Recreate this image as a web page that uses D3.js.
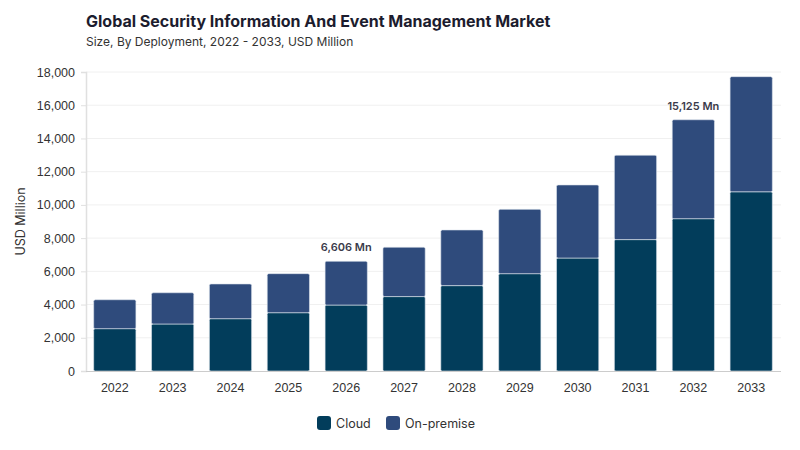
<!DOCTYPE html>
<html><head><meta charset="utf-8">
<script src="https://cdn.jsdelivr.net/npm/d3@7"></script>
<style>body{margin:0;background:#fff;}svg{font-family:Inter,"Noto Sans",sans-serif;}</style>
</head><body><svg id="c" width="800" height="450"></svg>
<script>
const years = ["2022","2023","2024","2025","2026","2027","2028","2029","2030","2031","2032","2033"];
const cloud = [2550,2830,3150,3510,3970,4480,5140,5860,6800,7910,9170,10790];
const onPremise = [1740,1880,2090,2350,2636,2970,3350,3870,4400,5080,5955,6930];
const yTicks = [0,2000,4000,6000,8000,10000,12000,14000,16000,18000];
const annotations = [{year:"2026", label:"6,606 Mn"},{year:"2032", label:"15,125 Mn"}];
const seriesNames = ["Cloud","On-premise"];
const colors = ["#023d5b","#2f4b7c"];

const svg = d3.select("#c");
const m = {l:86,r:19,t:72,b:79};
const W = 800, H = 450;
const x = d3.scaleBand().domain(years).range([85, 781]).paddingInner(0.27).paddingOuter(0.15);
const y = d3.scaleLinear().domain([0,18000]).range([H-m.b, m.t]);

svg.append("text").attr("x",86).attr("y",27).attr("font-size",16).attr("font-weight",700).attr("fill","#1c1c2e").text("Global Security Information And Event Management Market");
svg.append("text").attr("x",86).attr("y",46).attr("font-size",12).attr("fill","#333").text("Size, By Deployment, 2022 - 2033, USD Million");

// grid
svg.append("g").selectAll("line").data(yTicks.slice(1)).join("line")
  .attr("x1",m.l).attr("x2",W-m.r).attr("y1",d=>y(d)).attr("y2",d=>y(d))
  .attr("stroke","#f0f0f0").attr("stroke-width",1);

const ya = svg.append("g").attr("transform",`translate(${m.l},0)`)
  .call(d3.axisLeft(y).tickValues(yTicks).tickFormat(d3.format(",")).tickSize(5).tickPadding(6));
ya.select(".domain").attr("stroke","#e0e0e0").attr("stroke-width",1.5);
ya.selectAll(".tick line").attr("stroke","#e0e0e0");
ya.selectAll("text").attr("font-size",12.5).attr("fill","#333");

svg.append("text").attr("transform",`translate(25,${(m.t+H-m.b)/2}) rotate(-90)`).attr("text-anchor","middle")
  .attr("font-size",12.5).attr("fill","#333").text("USD Million");

const data = years.map((yr,i)=>({year:yr, Cloud:cloud[i], "On-premise":onPremise[i]}));
const stack = d3.stack().keys(seriesNames)(data);
svg.append("g").selectAll("g").data(stack).join("g").attr("fill",(d,i)=>colors[i])
  .selectAll("rect").data(d=>d).join("rect")
  .attr("x",d=>x(d.data.year)).attr("width",x.bandwidth())
  .attr("y",d=>y(d[1])).attr("height",d=>y(d[0])-y(d[1]))
  .attr("rx",1.5).attr("stroke","#dfe6ee").attr("stroke-width",0.6);

const xa = svg.append("g").attr("transform",`translate(0,${H-m.b})`)
  .call(d3.axisBottom(x).tickSize(0).tickPadding(12));
xa.select(".domain").attr("stroke","#ccc").attr("d",`M${m.l},0.5H${W-m.r}`);
xa.selectAll("text").attr("font-size",12.5).attr("fill","#333");

const totals = years.map((yr,i)=>cloud[i]+onPremise[i]);
svg.append("g").selectAll("text").data(annotations).join("text")
  .attr("x",d=>x(d.year)+x.bandwidth()/2)
  .attr("y",d=>y(totals[years.indexOf(d.year)])-10)
  .attr("text-anchor","middle").attr("font-size",11).attr("font-weight",600).attr("fill","#3a3a4a").text(d=>d.label);

const lg = svg.append("g").attr("transform","translate(317,416)");
const items = lg.selectAll("g").data(seriesNames).join("g").attr("transform",(d,i)=>`translate(${i*69},0)`);
items.append("rect").attr("width",14).attr("height",14).attr("rx",3).attr("fill",(d,i)=>colors[i]);
items.append("text").attr("x",19).attr("y",12).attr("font-size",12.5).attr("fill","#333").text(d=>d);
</script></body></html>
